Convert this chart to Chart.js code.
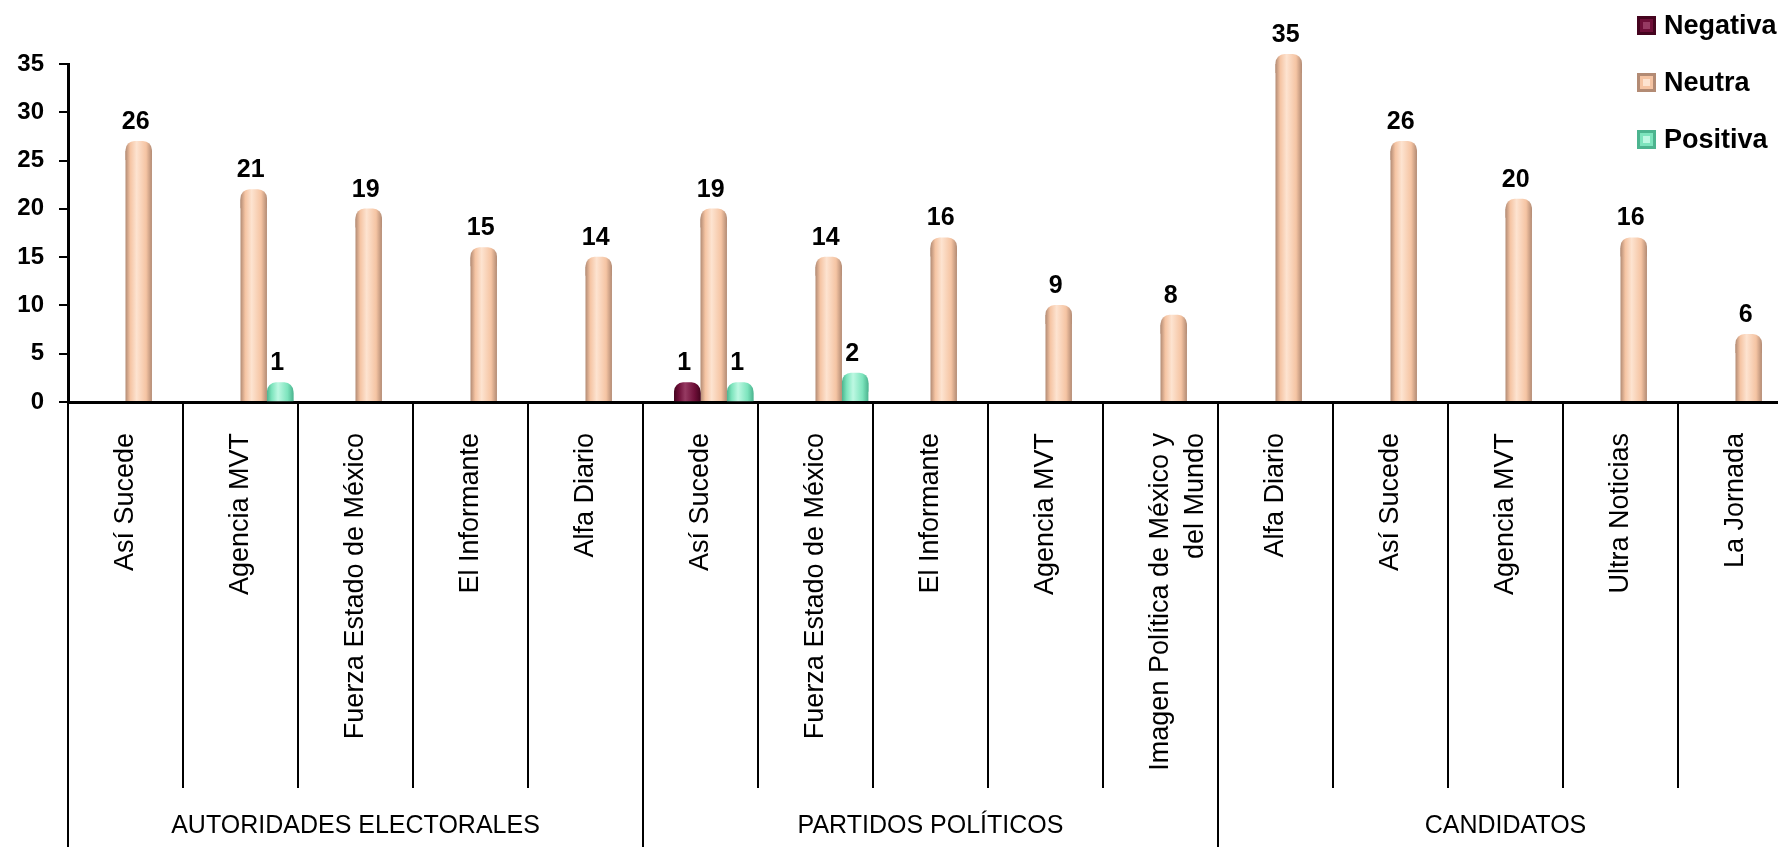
<!DOCTYPE html>
<html lang="es">
<head>
<meta charset="utf-8">
<title>Menciones por medio</title>
<script src="https://cdn.jsdelivr.net/npm/chart.js@4.4.1/dist/chart.umd.min.js"></script>
<style>
    html, body { margin: 0; padding: 0; background: #fff; overflow: hidden; }
    #wrap { position: relative; width: 1800px; height: 847px; }
</style>
</head>
<body>
<div id="wrap"><canvas id="mediosChart"></canvas></div>
<script>
const categories = [
    'Así Sucede', 'Agencia MVT', 'Fuerza Estado de México', 'El Informante', 'Alfa Diario',
    'Así Sucede', 'Fuerza Estado de México', 'El Informante', 'Agencia MVT', ['Imagen Política de México y', 'del Mundo'],
    'Alfa Diario', 'Así Sucede', 'Agencia MVT', 'Ultra Noticias', 'La Jornada'
];
const groups = ['AUTORIDADES ELECTORALES', 'PARTIDOS POLÍTICOS', 'CANDIDATOS'];
const groupSizes = [5, 5, 5];

const negativa = [null, null, null, null, null, 1, null, null, null, null, null, null, null, null, null];
const neutra = [26, 21, 19, 15, 14, 19, 14, 16, 9, 8, 35, 26, 20, 16, 6];
const positiva = [null, 1, null, null, null, 1, 2, null, null, null, null, null, null, null, null];

const yTicks = [0, 5, 10, 15, 20, 25, 30, 35];

const shades = {
    Negativa: { edge: '#45041f', base: '#6e0f38', light: '#963a62' },
    Neutra: { edge: '#b38b74', base: '#f5c4a3', light: '#fde3d0' },
    Positiva: { edge: '#4cb48f', base: '#7de4bd', light: '#bdf8e2' }
};

function shadeFor(ctx, bar, pal) {
    const left = bar.x - bar.width / 2;
    const g = ctx.createLinearGradient(left, 0, left + bar.width, 0);
    g.addColorStop(0, pal.edge);
    g.addColorStop(0.18, pal.base);
    g.addColorStop(0.42, pal.light);
    g.addColorStop(0.78, pal.base);
    g.addColorStop(1, pal.edge);
    return g;
}

// rounded "cylinder" look + value labels over each bar
const cylinderBars = {
    id: 'cylinderBars',
    beforeDatasetsDraw(chart) {
        const ctx = chart.ctx;
        chart.data.datasets.forEach((ds, i) => {
            if (!ds.shade) return;
            chart.getDatasetMeta(i).data.forEach(bar => {
                if (!Number.isFinite(bar.x) || !Number.isFinite(bar.width)) return;
                bar.options = Object.assign({}, bar.options, { backgroundColor: shadeFor(ctx, bar, ds.shade) });
            });
        });
    },
    afterDatasetsDraw(chart, args, opts) {
        const ctx = chart.ctx;
        chart.data.datasets.forEach((ds, i) => {
            if (!ds.shade) return;
            chart.getDatasetMeta(i).data.forEach((bar, j) => {
                const v = ds.data[j];
                if (v == null || !Number.isFinite(bar.y)) return;
                const left = bar.x - bar.width / 2;
                ctx.save();
                ctx.fillStyle = shadeFor(ctx, bar, ds.shade);
                ctx.beginPath();
                ctx.roundRect(left, bar.y - opts.cap, bar.width, opts.cap + opts.radius, [opts.radius, opts.radius, 0, 0]);
                ctx.fill();
                ctx.fillStyle = '#000';
                ctx.font = opts.font;
                ctx.textAlign = 'center';
                ctx.textBaseline = 'alphabetic';
                ctx.fillText(String(v), bar.x - 3, bar.y - opts.labelGap);
                ctx.restore();
            });
        });
    }
};

// category dividers below the axis and the group captions
const groupAxis = {
    id: 'groupAxis',
    afterDraw(chart, args, opts) {
        const x = chart.scales.x;
        const ctx = chart.ctx;
        const top = chart.chartArea.bottom;
        const ends = new Set([0]);
        let acc = 0;
        groupSizes.forEach(n => { acc += n; ends.add(acc); });

        ctx.save();
        ctx.strokeStyle = '#000';
        ctx.lineWidth = 2;
        for (let k = 0; k <= categories.length; k++) {
            const px = Math.round(x.getPixelForValue(k - 0.5));
            ctx.beginPath();
            ctx.moveTo(px, top);
            ctx.lineTo(px, ends.has(k) ? chart.height : opts.tickBottom);
            ctx.stroke();
        }
        ctx.fillStyle = '#000';
        ctx.font = opts.font;
        ctx.textAlign = 'center';
        ctx.textBaseline = 'middle';
        let s = 0;
        groups.forEach((g, i) => {
            const a = x.getPixelForValue(s - 0.5);
            const b = x.getPixelForValue(s + groupSizes[i] - 0.5);
            ctx.fillText(g, (a + b) / 2, opts.labelY);
            s += groupSizes[i];
        });
        ctx.restore();
    }
};

// stacked legend in the upper right corner, over the plot
const cornerLegend = {
    id: 'cornerLegend',
    afterDraw(chart, args, opts) {
        const ctx = chart.ctx;
        let y = opts.top;
        chart.data.datasets.forEach(ds => {
            if (!ds.label || !ds.shade) return;
            ctx.save();
            ctx.fillStyle = ds.shade.base;
            ctx.fillRect(opts.left, y, opts.box, opts.box);
            ctx.strokeStyle = ds.shade.edge;
            ctx.lineWidth = 3;
            ctx.strokeRect(opts.left + 1.5, y + 1.5, opts.box - 3, opts.box - 3);
            ctx.fillStyle = ds.shade.light;
            ctx.fillRect(opts.left + 6, y + 6, opts.box - 12, opts.box - 12);
            ctx.fillStyle = '#000';
            ctx.font = opts.font;
            ctx.textAlign = 'left';
            ctx.textBaseline = 'middle';
            ctx.fillText(ds.label, opts.left + opts.box + 8, y + opts.box / 2 + 1);
            ctx.restore();
            y += opts.rowGap;
        });
    }
};

const ctx = document.getElementById('mediosChart').getContext('2d');

new Chart(ctx, {
    type: 'bar',
    data: {
        labels: categories,
        datasets: [
            { label: '', data: [] },
            { label: 'Negativa', data: negativa, backgroundColor: shades.Negativa.base, shade: shades.Negativa },
            { label: 'Neutra', data: neutra, backgroundColor: shades.Neutra.base, shade: shades.Neutra },
            { label: 'Positiva', data: positiva, backgroundColor: shades.Positiva.base, shade: shades.Positiva }
        ]
    },
    options: {
        responsive: true,
        maintainAspectRatio: false,
        animation: false,
        datasets: {
            bar: { categoryPercentage: 0.92, barPercentage: 1.0, borderWidth: 0 }
        },
        layout: { padding: { top: 64, right: 7, bottom: 0, left: 0 } },
        plugins: {
            legend: { display: false },
            tooltip: { enabled: false },
            cylinderBars: { cap: 10, radius: 9, labelGap: 22, font: 'bold 25px "Liberation Sans"' },
            groupAxis: { tickBottom: 788, labelY: 826, font: '25px "Liberation Sans"' },
            cornerLegend: { left: 1637, top: 16, box: 19, rowGap: 57, font: 'bold 27px "Liberation Sans"' }
        },
        scales: {
            x: {
                offset: true,
                z: 1,
                grid: { display: false },
                border: { display: true, color: '#000', width: 3 },
                ticks: {
                    autoSkip: false,
                    minRotation: 90,
                    maxRotation: 90,
                    padding: 23,
                    color: '#000',
                    font: { family: 'Liberation Sans', size: 27, lineHeight: 1.3 }
                },
                afterFit: s => { s.height = 445; }
            },
            y: {
                min: 0,
                max: 35,
                afterBuildTicks: s => { s.ticks = yTicks.map(v => ({ value: v })); },
                grid: { display: true, drawOnChartArea: false, drawTicks: true, tickLength: 9, color: '#000', lineWidth: 2 },
                border: { display: true, color: '#000', width: 3 },
                ticks: {
                    padding: 15,
                    color: '#000',
                    font: { family: 'Liberation Sans', size: 24, weight: 'bold' }
                },
                afterFit: s => { s.width = 68; }
            }
        }
    },
    plugins: [cylinderBars, groupAxis, cornerLegend]
});
</script>
</body>
</html>
